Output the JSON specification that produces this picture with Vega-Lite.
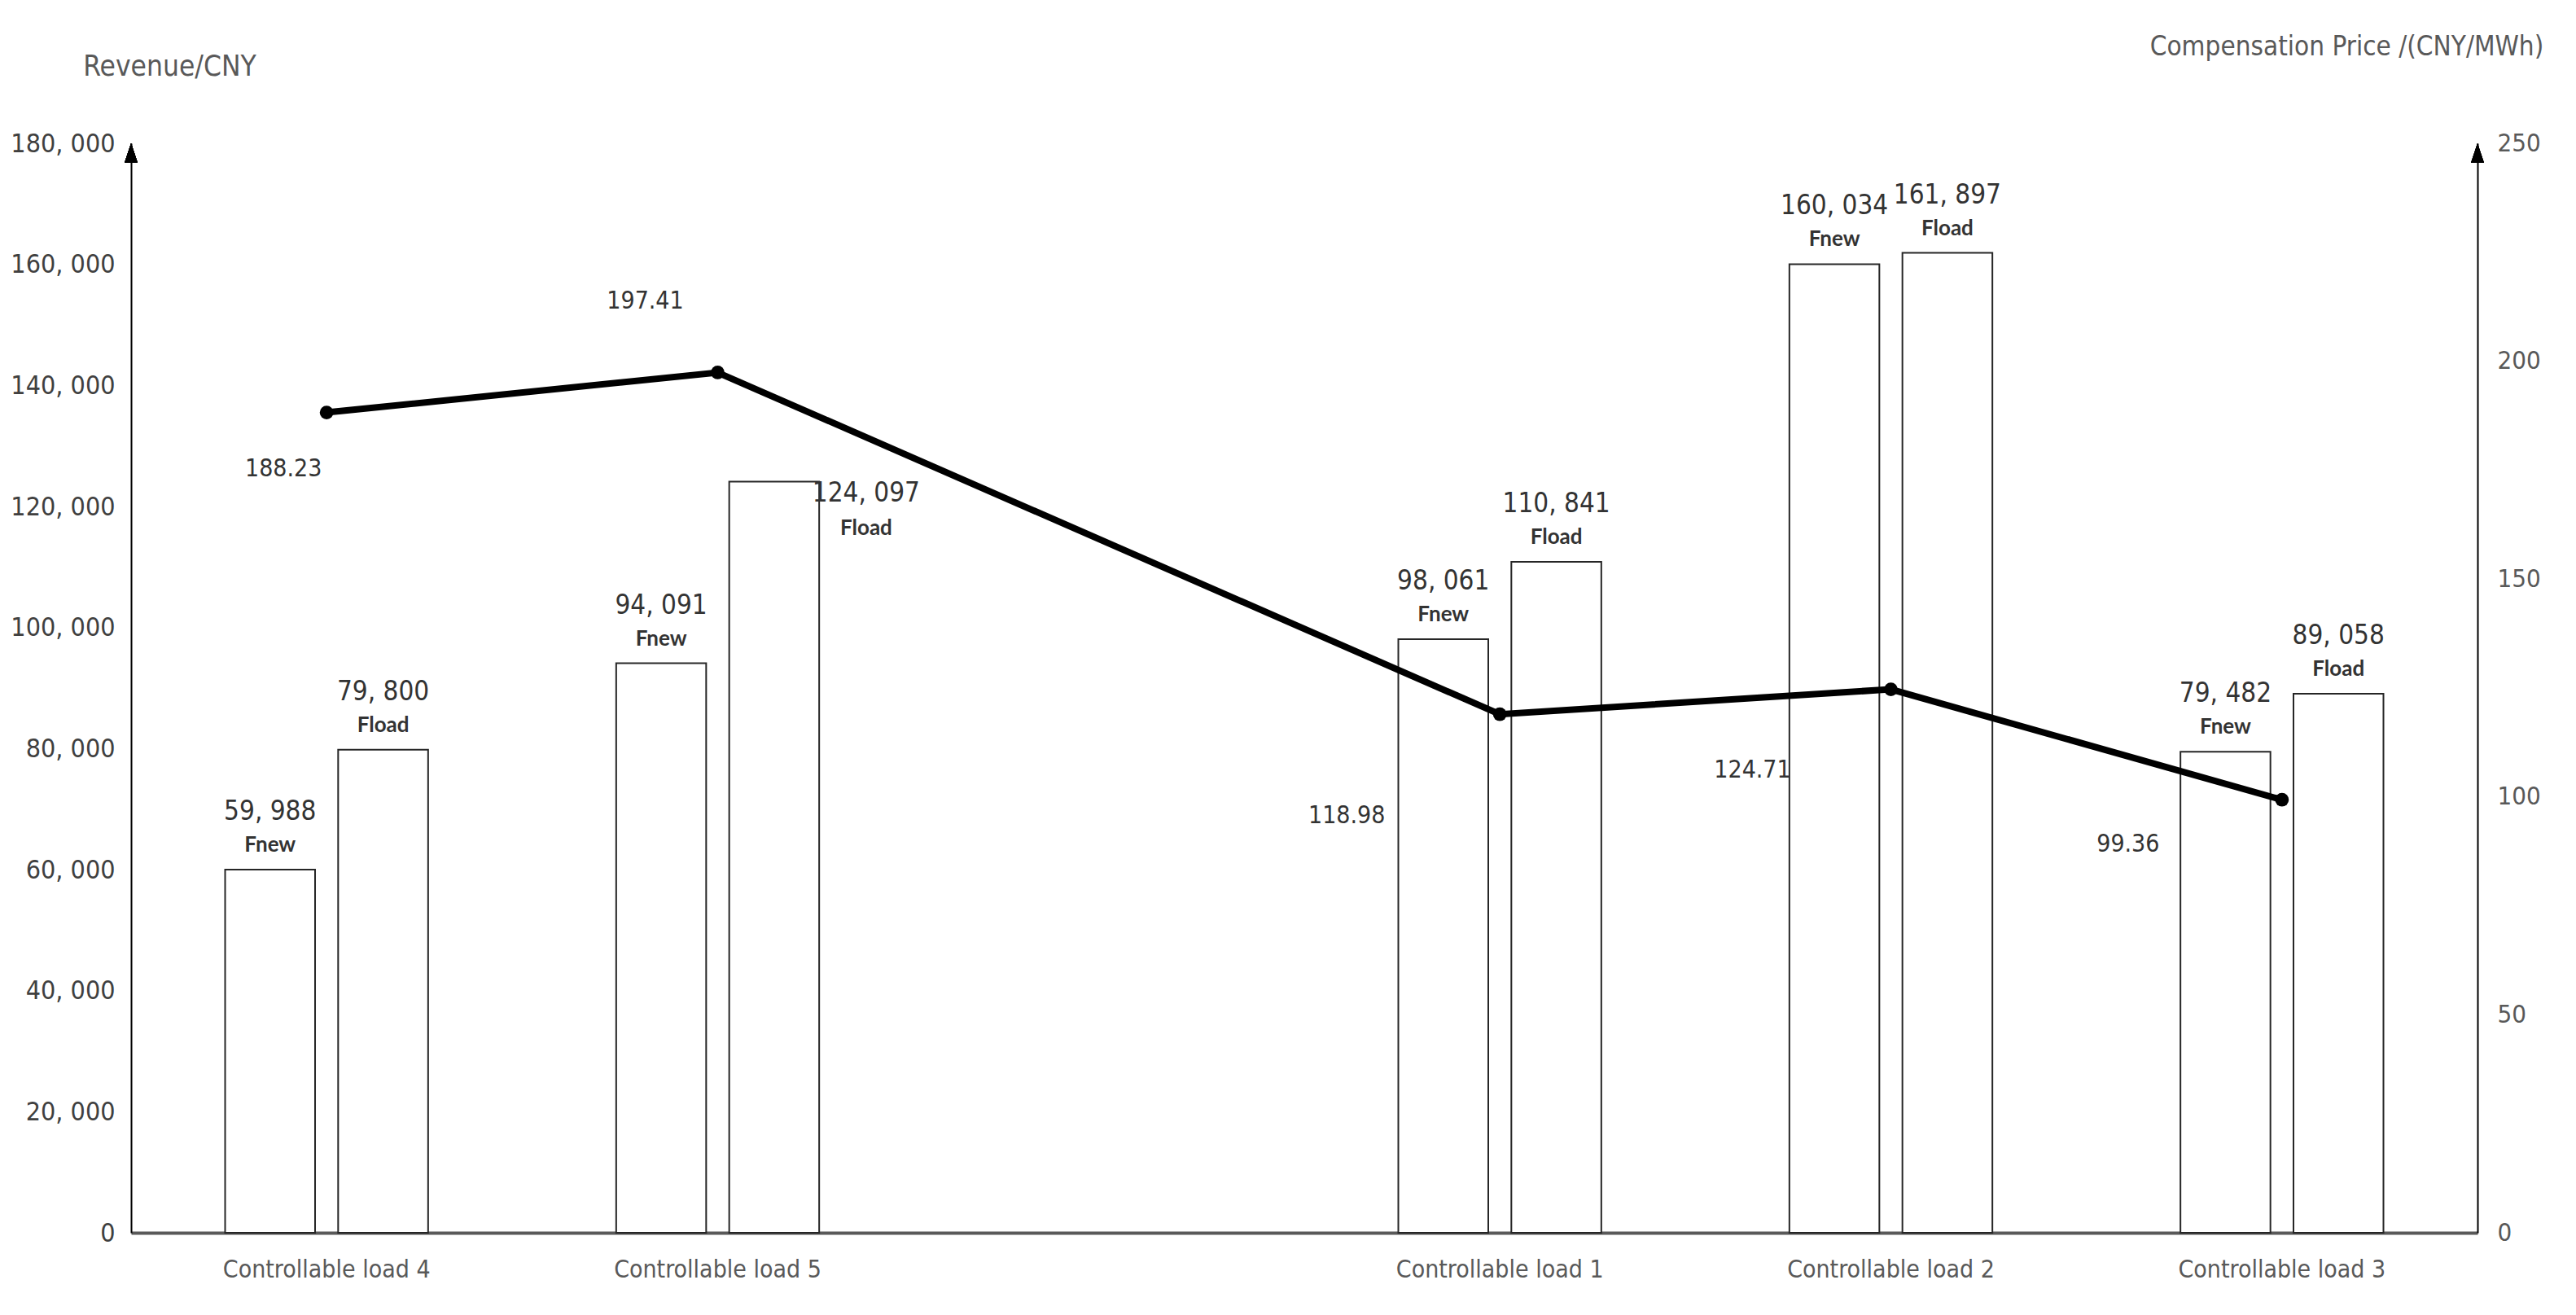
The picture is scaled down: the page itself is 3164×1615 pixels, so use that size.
{
  "$schema": "https://vega.github.io/schema/vega-lite/v6.json",
  "width": 2882,
  "height": 1338,
  "autosize": {"type": "none"},
  "padding": {"left": 161, "top": 176, "right": 121, "bottom": 101},
  "background": "white",
  "datasets": {
    "revenue": [
      {"load": "Controllable load 4", "series": "Fnew", "revenue": 59988},
      {"load": "Controllable load 4", "series": "Fload", "revenue": 79800},
      {"load": "Controllable load 5", "series": "Fnew", "revenue": 94091},
      {"load": "Controllable load 5", "series": "Fload", "revenue": 124097},
      {"load": "Controllable load 1", "series": "Fnew", "revenue": 98061},
      {"load": "Controllable load 1", "series": "Fload", "revenue": 110841},
      {"load": "Controllable load 2", "series": "Fnew", "revenue": 160034},
      {"load": "Controllable load 2", "series": "Fload", "revenue": 161897},
      {"load": "Controllable load 3", "series": "Fnew", "revenue": 79482},
      {"load": "Controllable load 3", "series": "Fload", "revenue": 89058}
    ],
    "price": [
      {"load": "Controllable load 4", "price": 188.23},
      {"load": "Controllable load 5", "price": 197.41},
      {"load": "Controllable load 1", "price": 118.98},
      {"load": "Controllable load 2", "price": 124.71},
      {"load": "Controllable load 3", "price": 99.36}
    ]
  },
  "config": {
    "locale": {"number": {"decimal": ".", "thousands": ", ", "grouping": [3], "currency": ["", ""]}},
    "view": {"stroke": null},
    "font": "DejaVu Sans Condensed, sans-serif"
  },
  "layer": [
    {
      "data": {"name": "revenue"},
      "layer": [
        {
          "mark": {"type": "bar", "fill": "white", "stroke": "#262626", "strokeWidth": 2},
          "encoding": {
            "x": {
              "field": "load", "type": "nominal", "title": null,
              "scale": {"type": "band", "domain": ["Controllable load 4", "Controllable load 5", " ", "Controllable load 1", "Controllable load 2", "Controllable load 3"], "paddingInner": 0, "paddingOuter": 0},
              "axis": {"title": null, "labelAngle": 0, "labelFontSize": 30, "labelLimit": 0, "labelColor": "#595959", "labelPadding": 30, "ticks": false, "domainColor": "#595959", "domainWidth": 4, "grid": false}
            },
            "xOffset": {"field": "series", "type": "nominal", "scale": {"domain": ["Fnew", "Fload"], "paddingInner": 0.204, "paddingOuter": 0.832}},
            "y": {
              "field": "revenue", "type": "quantitative", "title": "Revenue/CNY",
              "scale": {"domain": [0, 180000], "nice": false},
              "axis": {"title": "Revenue/CNY", "orient": "left", "values": [0, 20000, 40000, 60000, 80000, 100000, 120000, 140000, 160000, 180000], "format": ",d", "ticks": false, "grid": false, "domainColor": "#000000", "domainWidth": 2, "labelFontSize": 32, "labelColor": "#404040", "labelPadding": 20, "titleAngle": 0, "titleX": 47, "titleY": -95, "titleAlign": "center", "titleBaseline": "middle", "titleFontSize": 35, "titleFontWeight": "normal", "titleColor": "#595959"}
            }
          }
        },
        {
          "transform": [{"filter": "!(datum.load === 'Controllable load 5' && datum.series === 'Fload')"}],
          "mark": {"type": "text", "align": "center", "baseline": "middle", "dy": -71, "fontSize": 33, "color": "#333333"},
          "encoding": {
            "x": {"field": "load", "type": "nominal", "title": null},
            "xOffset": {"field": "series", "type": "nominal"},
            "y": {"field": "revenue", "type": "quantitative", "title": "Revenue/CNY"},
            "text": {"field": "revenue", "type": "quantitative", "format": ",d"}
          }
        },
        {
          "transform": [{"filter": "!(datum.load === 'Controllable load 5' && datum.series === 'Fload')"}],
          "mark": {"type": "text", "align": "center", "baseline": "middle", "dy": -30, "fontSize": 26, "fontWeight": "bold", "font": "Lato", "color": "#333333"},
          "encoding": {
            "x": {"field": "load", "type": "nominal", "title": null},
            "xOffset": {"field": "series", "type": "nominal"},
            "y": {"field": "revenue", "type": "quantitative", "title": "Revenue/CNY"},
            "text": {"field": "series", "type": "nominal"}
          }
        },
        {
          "transform": [{"filter": "datum.load === 'Controllable load 5' && datum.series === 'Fload'"}],
          "mark": {"type": "text", "align": "center", "baseline": "middle", "dx": 113, "dy": 14, "fontSize": 33, "color": "#333333"},
          "encoding": {
            "x": {"field": "load", "type": "nominal", "title": null},
            "xOffset": {"field": "series", "type": "nominal"},
            "y": {"field": "revenue", "type": "quantitative", "title": "Revenue/CNY"},
            "text": {"field": "revenue", "type": "quantitative", "format": ",d"}
          }
        },
        {
          "transform": [{"filter": "datum.load === 'Controllable load 5' && datum.series === 'Fload'"}],
          "mark": {"type": "text", "align": "center", "baseline": "middle", "dx": 113, "dy": 57, "fontSize": 26, "fontWeight": "bold", "font": "Lato", "color": "#333333"},
          "encoding": {
            "x": {"field": "load", "type": "nominal", "title": null},
            "xOffset": {"field": "series", "type": "nominal"},
            "y": {"field": "revenue", "type": "quantitative", "title": "Revenue/CNY"},
            "text": {"field": "series", "type": "nominal"}
          }
        },
        {
          "mark": {"type": "point", "shape": "M-0.5,1.5L0,0L0.5,1.5Z", "filled": true, "color": "#000000", "opacity": 1, "size": 1024},
          "encoding": {
            "x": {"datum": "Controllable load 4", "bandPosition": 0},
            "y": {"datum": 180000}
          }
        }
      ]
    },
    {
      "data": {"name": "price"},
      "layer": [
        {
          "mark": {"type": "line", "color": "#000000", "strokeWidth": 8},
          "encoding": {
            "x": {"field": "load", "type": "nominal", "title": null},
            "y": {
              "field": "price", "type": "quantitative", "title": "Compensation Price /(CNY/MWh)",
              "scale": {"domain": [0, 250], "nice": false},
              "axis": {"title": "Compensation Price /(CNY/MWh)", "orient": "right", "values": [0, 50, 100, 150, 200, 250], "format": "d", "ticks": false, "grid": false, "domainColor": "#000000", "domainWidth": 2, "labelFontSize": 31, "labelColor": "#595959", "labelPadding": 24, "titleAngle": 0, "titleX": -161, "titleY": -119, "titleAlign": "center", "titleBaseline": "middle", "titleFontSize": 33, "titleFontWeight": "normal", "titleColor": "#595959"}
            }
          }
        },
        {
          "mark": {"type": "point", "filled": true, "color": "#000000", "opacity": 1, "size": 280},
          "encoding": {
            "x": {"field": "load", "type": "nominal", "title": null},
            "y": {"field": "price", "type": "quantitative", "title": "Compensation Price /(CNY/MWh)"}
          }
        },
        {
          "transform": [{"filter": "datum.load === 'Controllable load 4'"}],
          "mark": {"type": "text", "align": "center", "baseline": "middle", "dx": -53, "dy": 69, "fontSize": 30, "color": "#333333"},
          "encoding": {
            "x": {"field": "load", "type": "nominal", "title": null},
            "y": {"field": "price", "type": "quantitative", "title": "Compensation Price /(CNY/MWh)"},
            "text": {"field": "price", "type": "quantitative", "format": ".2f"}
          }
        },
        {
          "transform": [{"filter": "datum.load === 'Controllable load 5'"}],
          "mark": {"type": "text", "align": "center", "baseline": "middle", "dx": -89, "dy": -87, "fontSize": 30, "color": "#333333"},
          "encoding": {
            "x": {"field": "load", "type": "nominal", "title": null},
            "y": {"field": "price", "type": "quantitative", "title": "Compensation Price /(CNY/MWh)"},
            "text": {"field": "price", "type": "quantitative", "format": ".2f"}
          }
        },
        {
          "transform": [{"filter": "datum.load === 'Controllable load 1'"}],
          "mark": {"type": "text", "align": "center", "baseline": "middle", "dx": -188, "dy": 125, "fontSize": 30, "color": "#333333"},
          "encoding": {
            "x": {"field": "load", "type": "nominal", "title": null},
            "y": {"field": "price", "type": "quantitative", "title": "Compensation Price /(CNY/MWh)"},
            "text": {"field": "price", "type": "quantitative", "format": ".2f"}
          }
        },
        {
          "transform": [{"filter": "datum.load === 'Controllable load 2'"}],
          "mark": {"type": "text", "align": "center", "baseline": "middle", "dx": -170, "dy": 99, "fontSize": 30, "color": "#333333"},
          "encoding": {
            "x": {"field": "load", "type": "nominal", "title": null},
            "y": {"field": "price", "type": "quantitative", "title": "Compensation Price /(CNY/MWh)"},
            "text": {"field": "price", "type": "quantitative", "format": ".2f"}
          }
        },
        {
          "transform": [{"filter": "datum.load === 'Controllable load 3'"}],
          "mark": {"type": "text", "align": "center", "baseline": "middle", "dx": -189, "dy": 55, "fontSize": 30, "color": "#333333"},
          "encoding": {
            "x": {"field": "load", "type": "nominal", "title": null},
            "y": {"field": "price", "type": "quantitative", "title": "Compensation Price /(CNY/MWh)"},
            "text": {"field": "price", "type": "quantitative", "format": ".2f"}
          }
        },
        {
          "mark": {"type": "point", "shape": "M-0.5,1.5L0,0L0.5,1.5Z", "filled": true, "color": "#000000", "opacity": 1, "size": 1024},
          "encoding": {
            "x": {"datum": "Controllable load 3", "bandPosition": 1},
            "y": {"datum": 250}
          }
        }
      ]
    }
  ],
  "resolve": {"scale": {"y": "independent"}}
}
